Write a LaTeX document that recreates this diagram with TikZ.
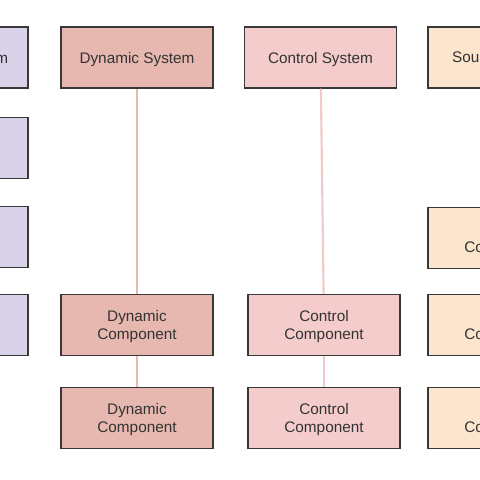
\documentclass[tikz,border=0pt]{standalone}
\usepackage{fontspec}
\setmainfont{Liberation Sans}
\usepackage{xcolor}
\usetikzlibrary{positioning}
\definecolor{dynfill}{HTML}{E6B8AF}
\definecolor{ctrlfill}{HTML}{F4CCCC}
\definecolor{srcfill}{HTML}{FCE5CD}
\definecolor{physfill}{HTML}{D9D2E9}
\definecolor{edgegray}{HTML}{383838}
\definecolor{txtgray}{HTML}{333333}
\tikzset{
	block/.style = {
			rectangle,
			draw            = edgegray,
			line width      = 1.1pt,
			minimum width   = 3.8cm,
			minimum height  = 1.52cm,
			inner sep       = 0pt,
			align           = center,
			text            = txtgray,
			text depth      = -1.2pt,
			font            = \fontsize{10.9}{12.8}\selectfont,
		},
	dynbox/.style  = {block, fill = dynfill},
	ctrlbox/.style = {block, fill = ctrlfill},
	srcbox/.style  = {block, fill = srcfill},
	physbox/.style = {block, fill = physfill},
	dynlink/.style  = {draw = dynfill, line width = 1.5pt},
	ctrllink/.style = {draw = ctrlfill!85!dynfill, line width = 1.5pt},
}

\begin{document}
\begin{tikzpicture}[x=0.025cm, y=-0.025cm]
			\useasboundingbox (0, 0) rectangle (480, 480);

			% physical column
			\node[physbox] (psys)   at (-48, 57.5) {Physical System};
			\node[physbox] (pcomp1) at (-48, 148) {};
			\node[physbox] (pcomp2) at (-48, 237) {};
			\node[physbox] (pcomp3) at (-48, 325) {};

			% dynamic column
			\node[dynbox] (dsys)   at (137, 57.5) {Dynamic System};
			\node[dynbox] (dcomp1) at (137, 325) {Dynamic\\Component};
			\node[dynbox] (dcomp2) at (137, 418) {Dynamic\\Component};

			% control column
			\node[ctrlbox] (csys)   at (320.5, 57.5) {Control System};
			\node[ctrlbox] (ccomp1) at (324, 325) {Control\\Component};
			\node[ctrlbox] (ccomp2) at (324, 418) {Control\\Component};

			% source column
			\node[srcbox] (ssys)   at (504, 57.5) {Source System};
			\node[srcbox] (scomp1) at (504, 238) {Source\\Component};
			\node[srcbox] (scomp2) at (504, 325) {Source\\Component};
			\node[srcbox] (scomp3) at (504, 418) {Source\\Component};

			% links
			\draw[dynlink] (dsys) -- (dcomp1);
			\draw[dynlink] (dcomp1) -- (dcomp2);
			\draw[ctrllink] (csys) -- (ccomp1);
			\draw[ctrllink] (ccomp1) -- (ccomp2);
		\end{tikzpicture}
\end{document}
